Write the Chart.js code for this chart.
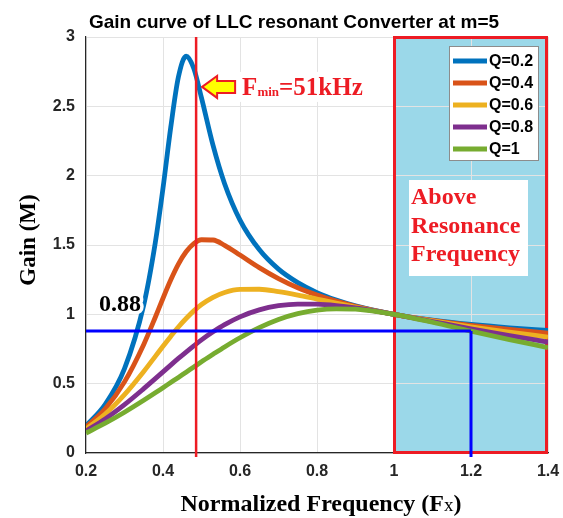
<!DOCTYPE html>
<html>
<head>
<meta charset="utf-8">
<script src="https://cdn.jsdelivr.net/npm/chart.js@4.4.0/dist/chart.umd.min.js"></script>
<style>
  html, body { margin: 0; padding: 0; background: #fff; }
  #wrap { width: 563px; height: 518px; position: relative; }
</style>
</head>
<body>
<div id="wrap"><canvas id="gain-chart"></canvas></div>
<script>
// normalized frequency samples (Fx) and gain
var freq = [0.2, 0.25, 0.3, 0.35, 0.38, 0.4, 0.42, 0.44, 0.46, 0.48, 0.5, 0.53, 0.56, 0.6, 0.65, 0.7, 0.75, 0.8, 0.85, 0.9, 1.0, 1.1, 1.2, 1.3, 1.4];
var gainQ02 = [0.196, 0.351, 0.608, 1.068, 1.517, 1.91, 2.346, 2.711, 2.861, 2.773, 2.561, 2.218, 1.942, 1.68, 1.467, 1.326, 1.229, 1.157, 1.103, 1.061, 1, 0.958, 0.927, 0.903, 0.884];
var gainQ04 = [0.187, 0.319, 0.513, 0.783, 0.979, 1.116, 1.247, 1.362, 1.451, 1.51, 1.538, 1.536, 1.498, 1.428, 1.337, 1.258, 1.192, 1.139, 1.095, 1.058, 1, 0.956, 0.921, 0.891, 0.865];
var gainQ06 = [0.173, 0.281, 0.421, 0.588, 0.697, 0.77, 0.841, 0.909, 0.97, 1.025, 1.071, 1.123, 1.158, 1.18, 1.181, 1.164, 1.139, 1.11, 1.081, 1.053, 1, 0.953, 0.91, 0.872, 0.836];
var gainQ08 = [0.159, 0.246, 0.349, 0.464, 0.536, 0.585, 0.634, 0.682, 0.728, 0.773, 0.816, 0.874, 0.926, 0.982, 1.032, 1.062, 1.074, 1.073, 1.063, 1.046, 1, 0.948, 0.896, 0.847, 0.8];
var gainQ1 = [0.144, 0.215, 0.294, 0.38, 0.434, 0.471, 0.508, 0.545, 0.583, 0.62, 0.658, 0.712, 0.765, 0.831, 0.904, 0.963, 1.005, 1.031, 1.04, 1.037, 1, 0.943, 0.879, 0.818, 0.76];

var seriesLabels = ['Q=0.2', 'Q=0.4', 'Q=0.6', 'Q=0.8', 'Q=1'];
var seriesColors = ['#0072BD', '#D95319', '#EDB120', '#7E2F8E', '#77AC30'];
var seriesGains = [gainQ02, gainQ04, gainQ06, gainQ08, gainQ1];

var xTickValues = [0.2, 0.4, 0.6, 0.8, 1, 1.2, 1.4];
var yTickValues = [0, 0.5, 1, 1.5, 2, 2.5, 3];

// markers
var fMin = 0.486;          // F_min = 51kHz
var fMinGain = 2.64;       // where the arrow points
var gainMark = 0.88;
var fMark = 1.2;
var regionStart = 1.0;
var regionEnd = 1.4;

var serif = '"Liberation Serif", "Times New Roman", serif';
var sans = '"Liberation Sans", Arial, sans-serif';

function px(chart, v) { return chart.scales.x.getPixelForValue(v); }
function py(chart, v) { return chart.scales.y.getPixelForValue(v); }

var datasets = seriesGains.map(function(g, i) {
  return {
    label: seriesLabels[i],
    data: freq.map(function(f, k) { return { x: f, y: g[k] }; }),
    borderColor: seriesColors[i],
    borderWidth: 4.8,
    pointRadius: 0,
    fill: false,
    cubicInterpolationMode: 'monotone',
    order: seriesGains.length - i
  };
});

// shaded band above resonance, under the grid
var regionPlugin = {
  id: 'region',
  beforeDraw: function(chart) {
    var ctx = chart.ctx;
    var x0 = px(chart, regionStart), x1 = px(chart, regionEnd);
    var yb = py(chart, yTickValues[0]), yt = py(chart, yTickValues[yTickValues.length - 1]);
    ctx.save();
    ctx.fillStyle = '#9bd8e9';
    ctx.fillRect(x0, yt, x1 - x0, yb - yt);
    ctx.restore();
  },
  beforeDatasetsDraw: function(chart) {
    var ctx = chart.ctx;
    var x0 = px(chart, regionStart), x1 = px(chart, regionEnd);
    var yb = py(chart, yTickValues[0]), yt = py(chart, yTickValues[yTickValues.length - 1]);
    ctx.save();
    ctx.strokeStyle = '#ed1c24';
    ctx.lineWidth = 3;
    ctx.strokeRect(x0 + 0.5, yt + 0.5, x1 - x0 - 2, yb - yt - 1);
    ctx.restore();
  }
};

var markerPlugin = {
  id: 'markers',
  afterDatasetsDraw: function(chart) {
    var ctx = chart.ctx;
    var area = chart.chartArea;
    ctx.save();

    // F_min line
    var xr = px(chart, fMin);
    ctx.strokeStyle = '#ed1c24';
    ctx.lineWidth = 2.5;
    ctx.beginPath();
    ctx.moveTo(xr, area.top);
    ctx.lineTo(xr, area.bottom + 4);
    ctx.stroke();

    // 0.88 cross lines
    var yg = py(chart, gainMark);
    var xm = px(chart, fMark);
    ctx.strokeStyle = '#0000ff';
    ctx.lineWidth = 3;
    ctx.beginPath();
    ctx.moveTo(px(chart, xTickValues[0]), yg);
    ctx.lineTo(xm, yg);
    ctx.moveTo(xm, yg);
    ctx.lineTo(xm, area.bottom + 4);
    ctx.stroke();

    // 0.88 label
    ctx.font = 'bold 24px ' + serif;
    ctx.textAlign = 'left';
    ctx.textBaseline = 'alphabetic';
    ctx.lineJoin = 'round';
    ctx.strokeStyle = '#fff';
    ctx.lineWidth = 7;
    ctx.strokeText('0.88', area.left + 13, yg - 20);
    ctx.fillStyle = '#000';
    ctx.fillText('0.88', area.left + 13, yg - 20);

    // arrow to F_min
    var tx = xr + 6, ty = py(chart, fMinGain);
    ctx.beginPath();
    ctx.moveTo(tx, ty);
    ctx.lineTo(tx + 15, ty - 11);
    ctx.lineTo(tx + 15, ty - 6);
    ctx.lineTo(tx + 33, ty - 6);
    ctx.lineTo(tx + 33, ty + 6);
    ctx.lineTo(tx + 15, ty + 6);
    ctx.lineTo(tx + 15, ty + 11);
    ctx.closePath();
    ctx.fillStyle = '#ffff00';
    ctx.fill();
    ctx.strokeStyle = '#ed1c24';
    ctx.lineWidth = 2;
    ctx.lineJoin = 'miter';
    ctx.stroke();

    // F_min label
    ctx.fillStyle = '#fff';
    ctx.fillRect(tx + 37, ty - 15, 128, 30);
    ctx.fillStyle = '#ed1c24';
    var lx = tx + 40, ly = ty + 8;
    ctx.font = 'bold 25px ' + serif;
    ctx.fillText('F', lx, ly);
    lx += ctx.measureText('F').width;
    ctx.font = 'bold 13px ' + serif;
    ctx.fillText('min', lx, ly + 1);
    lx += ctx.measureText('min').width;
    ctx.font = 'bold 25px ' + serif;
    ctx.fillText('=51kHz', lx, ly);

    // above resonance note
    var bx = px(chart, regionStart) + 15;
    ctx.fillStyle = '#fff';
    ctx.fillRect(bx, area.top + 143, 119, 96);
    ctx.fillStyle = '#ed1c24';
    ctx.font = 'bold 24px ' + serif;
    ctx.fillText('Above', bx + 2, area.top + 167);
    ctx.fillText('Resonance', bx + 2, area.top + 196);
    ctx.fillText('Frequency', bx + 2, area.top + 224);

    // legend
    var lgx = area.right - 99, lgy = area.top + 9, lgw = 89, lgh = 114;
    ctx.fillStyle = '#fff';
    ctx.fillRect(lgx, lgy, lgw, lgh);
    ctx.strokeStyle = '#8c8c8c';
    ctx.lineWidth = 1;
    ctx.strokeRect(lgx + 0.5, lgy + 0.5, lgw, lgh);
    ctx.font = 'bold 16px ' + sans;
    ctx.textBaseline = 'middle';
    for (var i = 0; i < seriesLabels.length; i++) {
      var iy = lgy + 15 + i * 22;
      ctx.strokeStyle = seriesColors[i];
      ctx.lineWidth = 5;
      ctx.beginPath();
      ctx.moveTo(lgx + 4, iy);
      ctx.lineTo(lgx + 38, iy);
      ctx.stroke();
      ctx.fillStyle = '#000';
      ctx.fillText(seriesLabels[i], lgx + 40, iy + 1);
    }
    ctx.restore();
  },
  afterDraw: function(chart) {
    var ctx = chart.ctx;
    var area = chart.chartArea;
    ctx.save();
    ctx.fillStyle = '#000';
    ctx.textBaseline = 'alphabetic';
    ctx.textAlign = 'center';
    ctx.font = 'bold 19px ' + sans;
    ctx.fillText('Gain curve of LLC resonant Converter at m=5', 294, 28);

    // y title
    ctx.save();
    ctx.translate(35, 240);
    ctx.rotate(-Math.PI / 2);
    ctx.font = 'bold 23px ' + serif;
    ctx.fillText('Gain (M)', 0, 0);
    ctx.restore();

    // x title with small x
    ctx.textAlign = 'left';
    var partA = 'Normalized Frequency (F', partB = 'x', partC = ')';
    ctx.font = 'bold 24px ' + serif;
    var wA = ctx.measureText(partA).width, wC = ctx.measureText(partC).width;
    ctx.font = '19px ' + serif;
    var wB = ctx.measureText(partB).width;
    var sx = (area.left + area.right) / 2 - (wA + wB + wC) / 2 + 4;
    var by = 511;
    ctx.font = 'bold 24px ' + serif;
    ctx.fillText(partA, sx, by);
    ctx.font = '19px ' + serif;
    ctx.fillText(partB, sx + wA, by);
    ctx.font = 'bold 24px ' + serif;
    ctx.fillText(partC, sx + wA + wB, by);
    ctx.restore();
  }
};

function tickLabel(v) { return String(+(+v).toFixed(2)); }

var ctx = document.getElementById('gain-chart').getContext('2d');
var gainChart = new Chart(ctx, {
  type: 'line',
  data: { datasets: datasets },
  options: {
    responsive: true,
    maintainAspectRatio: false,
    animation: false,
    layout: { padding: { top: 37, right: 15, left: 0, bottom: 0 } },
    plugins: { legend: { display: false }, title: { display: false }, tooltip: { enabled: false } },
    scales: {
      x: {
        type: 'linear',
        min: xTickValues[0],
        max: xTickValues[xTickValues.length - 1],
        afterBuildTicks: function(scale) { scale.ticks = xTickValues.map(function(v) { return { value: v }; }); },
        afterFit: function(scale) {
          scale.height = 65;
          scale.paddingLeft = 0;
          scale.paddingRight = 0;
        },
        grid: { color: '#e3e3e3', lineWidth: 1, drawTicks: false },
        border: { color: '#262626', width: 1.2 },
        ticks: {
          callback: tickLabel,
          color: '#262626',
          padding: 9,
          maxRotation: 0,
          font: { family: sans, size: 16, weight: 'bold' }
        }
      },
      y: {
        type: 'linear',
        min: yTickValues[0],
        max: yTickValues[yTickValues.length - 1],
        afterBuildTicks: function(scale) { scale.ticks = yTickValues.map(function(v) { return { value: v }; }); },
        afterFit: function(scale) {
          scale.width = 86;
          scale.paddingTop = 0;
          scale.paddingBottom = 0;
        },
        grid: { color: '#e3e3e3', lineWidth: 1, drawTicks: false },
        border: { color: '#262626', width: 1.2 },
        ticks: {
          callback: tickLabel,
          color: '#262626',
          padding: 11,
          font: { family: sans, size: 16, weight: 'bold' }
        }
      }
    }
  },
  plugins: [regionPlugin, markerPlugin]
});
</script>
</body>
</html>
